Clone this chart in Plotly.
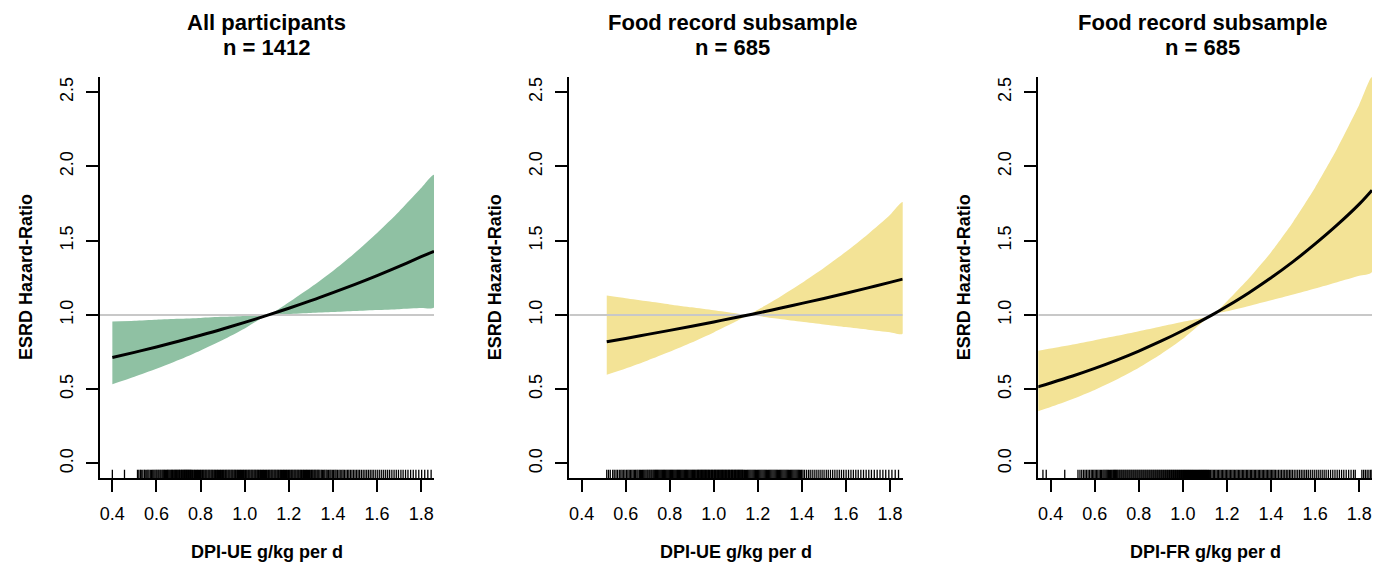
import plotly.graph_objects as go

# ---------------- data ----------------
TITLES = ["All participants", "Food record subsample", "Food record subsample"]
NTEXT = ["n = 1412", "n = 685", "n = 685"]
XTITLES = ["DPI-UE g/kg per d", "DPI-UE g/kg per d", "DPI-FR g/kg per d"]
YTITLE = "ESRD Hazard-Ratio"
XTICKS = [0.4, 0.6, 0.8, 1.0, 1.2, 1.4, 1.6, 1.8]
XTICKTEXT = ["0.4", "0.6", "0.8", "1.0", "1.2", "1.4", "1.6", "1.8"]
YTICKS = [0.0, 0.5, 1.0, 1.5, 2.0, 2.5]
YTICKTEXT = ["0.0", "0.5", "1.0", "1.5", "2.0", "2.5"]

# Panel 1: all participants
X1 = [0.40, 0.50, 0.60, 0.70, 0.80, 0.90, 1.00, 1.108, 1.20, 1.30, 1.40, 1.50, 1.60, 1.70, 1.80, 1.858]
HR1 = [0.713, 0.748, 0.784, 0.823, 0.863, 0.905, 0.950, 1.000, 1.045, 1.096, 1.150, 1.206, 1.265, 1.327, 1.392, 1.428]
LO1 = [0.533, 0.583, 0.637, 0.696, 0.761, 0.831, 0.909, 1.000, 1.006, 1.013, 1.019, 1.026, 1.033, 1.039, 1.046, 1.050]
HI1 = [0.955, 0.961, 0.968, 0.974, 0.980, 0.987, 0.993, 1.000, 1.085, 1.186, 1.296, 1.418, 1.552, 1.697, 1.855, 1.944]

# Panel 2: food record subsample, DPI-UE
X2 = [0.514, 0.60, 0.70, 0.80, 0.90, 1.00, 1.10, 1.157, 1.20, 1.30, 1.40, 1.50, 1.60, 1.70, 1.80, 1.858]
HR2 = [0.820, 0.842, 0.869, 0.896, 0.924, 0.953, 0.983, 1.000, 1.013, 1.045, 1.078, 1.111, 1.146, 1.182, 1.219, 1.241]
LO2 = [0.598, 0.640, 0.694, 0.752, 0.814, 0.882, 0.955, 1.000, 0.992, 0.973, 0.954, 0.936, 0.918, 0.901, 0.884, 0.874]
HI2 = [1.131, 1.113, 1.092, 1.071, 1.051, 1.031, 1.011, 1.000, 1.035, 1.121, 1.215, 1.316, 1.425, 1.544, 1.673, 1.760]

# Panel 3: food record subsample, DPI-FR
X3 = [0.342, 0.40, 0.50, 0.60, 0.70, 0.80, 0.90, 1.00, 1.133, 1.20, 1.30, 1.40, 1.50, 1.60, 1.70, 1.80, 1.858]
HR3 = [0.516, 0.542, 0.589, 0.640, 0.696, 0.757, 0.823, 0.895, 1.000, 1.058, 1.150, 1.250, 1.359, 1.478, 1.606, 1.746, 1.840]
LO3 = [0.352, 0.380, 0.434, 0.495, 0.565, 0.644, 0.735, 0.839, 1.000, 1.024, 1.060, 1.098, 1.137, 1.178, 1.220, 1.263, 1.289]
HI3 = [0.758, 0.774, 0.801, 0.830, 0.859, 0.890, 0.922, 0.954, 1.000, 1.092, 1.247, 1.422, 1.626, 1.858, 2.120, 2.415, 2.604]

# Rug positions (thousandths of g/kg per d)
RUG1 = [400, 455,
        514, 520, 527, 531, 538, 545, 549, 556, 561, 566, 572, 578, 583, 588, 593, 598, 602, 607,
        611, 616, 620, 625, 629, 633, 637, 641, 646, 650, 653, 657, 661, 665, 669, 672, 676, 680,
        683, 687, 690, 694, 697, 701, 704, 707, 711, 714, 717, 721, 724, 727, 730, 733, 736, 739,
        742, 745, 748, 751, 754, 757,
        760, 764, 769, 773, 777, 782, 786, 790, 795, 799, 803, 808, 812, 816, 821, 825, 829, 834,
        838, 842, 847, 851, 855, 860, 864, 868, 873, 877, 881, 886, 890, 894, 899, 903, 907, 912,
        916, 920, 925, 929, 933, 938, 942, 946, 951, 955, 959, 964, 968, 972, 977, 981, 985, 990,
        994, 998, 1003, 1007, 1011, 1016, 1020, 1024, 1029, 1033, 1037, 1042, 1046, 1050, 1055,
        1059, 1063, 1068, 1072, 1076, 1081, 1085, 1089, 1094, 1098, 1102, 1107, 1111, 1115, 1120,
        1124, 1128, 1133, 1137, 1141, 1146, 1150, 1154, 1159, 1163, 1167, 1172, 1176, 1180, 1185,
        1189, 1193, 1198, 1202, 1206, 1211, 1215, 1219, 1224, 1228, 1232, 1237, 1241, 1245, 1250,
        1254, 1258, 1263, 1267, 1271, 1276, 1280, 1284, 1289, 1293, 1297, 1302, 1306, 1310, 1315,
        1319, 1323, 1328, 1332, 1336,
        1341, 1347, 1352, 1358, 1363, 1369, 1374, 1380, 1386, 1391, 1397, 1403, 1409, 1414, 1420,
        1427, 1433, 1440, 1446, 1452, 1459, 1466, 1472, 1479, 1486, 1493, 1500, 1507, 1514, 1521,
        1529, 1537, 1545, 1553, 1561, 1569, 1577, 1585, 1594, 1603, 1612, 1621, 1630, 1639, 1648,
        1657, 1667, 1677, 1687, 1697, 1708, 1718, 1729, 1740, 1752, 1764, 1776, 1789, 1802, 1816,
        1830, 1845]

RUG2 = [514, 522, 530, 541, 548, 556, 563, 571, 578, 584, 591, 597, 604, 610, 616, 622, 628, 634,
        640, 645, 651, 656, 662, 667, 672, 677, 682, 687, 692, 697, 701, 706, 710, 715, 719, 724,
        728, 732, 736, 740, 744, 748, 752, 756, 760, 764, 768, 772, 776, 780, 784, 788, 792, 796,
        800, 804, 808, 812, 816, 820, 824, 828, 832, 836, 840, 844, 848, 852, 856, 860, 864, 868,
        872, 876, 880, 884, 888, 892, 896, 900, 904, 908, 912, 916, 920,
        924, 927, 931, 934, 938, 941, 945, 948, 952, 955, 959, 962, 966, 969, 973, 976, 980, 983,
        987, 990, 994, 997, 1001, 1004, 1008, 1011, 1015, 1018, 1022, 1025, 1029, 1032, 1036, 1039,
        1043, 1046, 1050, 1053, 1057, 1060, 1064, 1067, 1071, 1074, 1078, 1081, 1085, 1088, 1092,
        1095, 1099, 1102, 1106, 1109, 1113, 1116, 1120, 1123, 1127, 1130, 1134,
        1139, 1144, 1149, 1154, 1159, 1164, 1169, 1174, 1179, 1184, 1189, 1194, 1199, 1204, 1209,
        1214, 1219, 1224, 1229, 1234, 1239, 1244, 1249, 1254, 1259, 1264, 1269, 1274, 1279, 1284,
        1289, 1294, 1299, 1304, 1309, 1314, 1319, 1324, 1329, 1334, 1339, 1344, 1349, 1354, 1359,
        1364, 1369, 1374, 1379, 1384, 1389, 1394, 1399, 1405,
        1412, 1421, 1430, 1438, 1447, 1456, 1465, 1474, 1483, 1492, 1501, 1511, 1520, 1530, 1540,
        1550, 1560, 1570, 1580, 1590, 1601, 1612, 1623, 1634, 1645, 1656, 1668, 1680, 1692, 1704,
        1716, 1729, 1742, 1755, 1768, 1781, 1795, 1809, 1824, 1839]

RUG3 = [365, 380, 464,
        524, 533, 541, 549, 556, 563, 570, 577, 584, 590, 596, 602, 608, 614, 620, 626, 631, 637,
        642, 647, 652, 657, 662, 667, 672, 677, 682, 686, 690, 694, 698,
        702, 706, 711, 715, 720, 724, 729, 733, 738, 742, 747, 751, 756, 760, 765, 769, 774, 778,
        783, 787, 792, 796, 801, 805, 810, 814, 819, 823, 828, 832, 837, 841, 846, 850, 855, 859,
        864, 868, 873, 877, 882, 886, 891, 895, 900, 904, 909, 913, 918, 922, 927, 931, 936, 940,
        945, 949, 954, 958, 963, 967, 972, 976, 981, 985, 990, 994, 999, 1003, 1008, 1012, 1017,
        1021, 1026, 1030, 1035, 1039, 1044, 1048, 1053, 1057, 1062, 1066, 1071, 1075, 1080, 1084,
        1089, 1093, 1098, 1102, 1107, 1111, 1116, 1120,
        1126, 1132, 1138, 1144, 1150, 1156, 1162, 1168, 1174, 1180, 1186, 1192, 1198, 1204, 1210,
        1216, 1222, 1228, 1234, 1240, 1246, 1252, 1258, 1264, 1270, 1276, 1282, 1288, 1294, 1300,
        1306, 1312, 1318, 1324, 1330, 1336, 1342, 1348, 1354, 1360, 1366, 1372, 1378, 1384, 1390,
        1396, 1402, 1408, 1414, 1420, 1427, 1434, 1441, 1448, 1455, 1462, 1469, 1476, 1483, 1490,
        1497,
        1505, 1513, 1521, 1529, 1537, 1545, 1553, 1561, 1569, 1578, 1587, 1596, 1605, 1614, 1623,
        1632, 1641, 1650, 1660, 1670, 1680, 1690, 1700, 1710, 1720, 1730, 1741, 1752, 1763, 1774,
        1782,
        1812, 1820, 1828, 1836, 1844, 1852, 1858]

# ---------------- styling / layout ----------------
W, H = 1381, 563
GREEN = "#8FC1A3"
YELLOW = "#F3E396"
FONT = "Liberation Sans, Arial, sans-serif"
XR = [0.344, 1.858]
YR = [-0.1, 2.6]
RUG_TOP = -0.042

panels = [
    (X1, HR1, LO1, HI1, RUG1, GREEN),
    (X2, HR2, LO2, HI2, RUG2, YELLOW),
    (X3, HR3, LO3, HI3, RUG3, YELLOW),
]
# plot-area left/right edges in pixels
PX = [(100, 434), (569.3, 902.7), (1038.3, 1372)]
PY = (77.3, 478.3)

fig = go.Figure()

for i, (x, hr, lo, hi, rug, col) in enumerate(panels):
    n = i + 1
    xa = "x" if n == 1 else f"x{n}"
    ya = "y" if n == 1 else f"y{n}"
    # confidence band
    fig.add_trace(go.Scatter(
        x=x + x[::-1], y=hi + lo[::-1], fill="toself", fillcolor=col,
        line=dict(width=0, color=col, shape="spline", smoothing=0.6), mode="lines",
        hoverinfo="skip", showlegend=False, xaxis=xa, yaxis=ya))
    # reference line at HR = 1
    fig.add_trace(go.Scatter(
        x=XR, y=[1, 1], mode="lines", line=dict(color="#C8C8C8", width=2),
        hoverinfo="skip", showlegend=False, xaxis=xa, yaxis=ya))
    # estimated hazard ratio
    fig.add_trace(go.Scatter(
        x=x, y=hr, mode="lines", line=dict(color="black", width=3, shape="spline"),
        showlegend=False, xaxis=xa, yaxis=ya))
    # rug
    rx, ry = [], []
    for v in rug:
        rx += [v / 1000, v / 1000, None]
        ry += [YR[0], RUG_TOP, None]
    fig.add_trace(go.Scatter(
        x=rx, y=ry, mode="lines", line=dict(color="black", width=1.3),
        hoverinfo="skip", showlegend=False, xaxis=xa, yaxis=ya))

    dom_x = [PX[i][0] / W, PX[i][1] / W]
    dom_y = [1 - PY[1] / H, 1 - PY[0] / H]
    axis_common = dict(showline=True, linecolor="black", linewidth=2, ticks="outside",
                       ticklen=12, tickwidth=2, tickcolor="black", showgrid=False,
                       zeroline=False, tickfont=dict(family=FONT, size=18, color="black"),
                       ticklabelstandoff=6)
    fig.update_layout(**{
        ("xaxis" if n == 1 else f"xaxis{n}"): dict(
            domain=dom_x, range=XR, anchor=ya, tickvals=XTICKS, ticktext=XTICKTEXT,
            **axis_common),
        ("yaxis" if n == 1 else f"yaxis{n}"): dict(
            domain=dom_y, range=YR, anchor=xa, tickvals=YTICKS, ticktext=YTICKTEXT,
            tickangle=-90, **axis_common),
    })

    cx = (PX[i][0] + PX[i][1]) / 2
    tcx = [266.7, 732.5, 1202][i]
    fig.add_annotation(x=tcx / W, y=1 - 22.7 / H, xref="paper", yref="paper",
                       text=f"<b>{TITLES[i]}</b>", showarrow=False, xanchor="center",
                       yanchor="middle", font=dict(family=FONT, size=22, color="black"))
    fig.add_annotation(x=tcx / W, y=1 - 48 / H, xref="paper", yref="paper",
                       text=f"<b>{NTEXT[i]}</b>", showarrow=False, xanchor="center",
                       yanchor="middle", font=dict(family=FONT, size=22, color="black"))
    fig.add_annotation(x=cx / W, y=1 - 551.7 / H, xref="paper", yref="paper",
                       text=f"<b>{XTITLES[i]}</b>", showarrow=False, xanchor="center",
                       yanchor="middle", font=dict(family=FONT, size=18, color="black"))
    fig.add_annotation(x=(PX[i][0] - 74) / W, y=1 - 277 / H, xref="paper", yref="paper",
                       text=f"<b>{YTITLE}</b>", showarrow=False, textangle=-90,
                       xanchor="center", yanchor="middle",
                       font=dict(family=FONT, size=18, color="black"))

fig.update_layout(width=W, height=H, autosize=False,
                  margin=dict(l=0, r=0, t=0, b=0),
                  paper_bgcolor="white", plot_bgcolor="white")

fig.write_html("out.html", config={"displayModeBar": False},
               post_script="document.body.style.margin='0';document.body.style.overflow='hidden';")
